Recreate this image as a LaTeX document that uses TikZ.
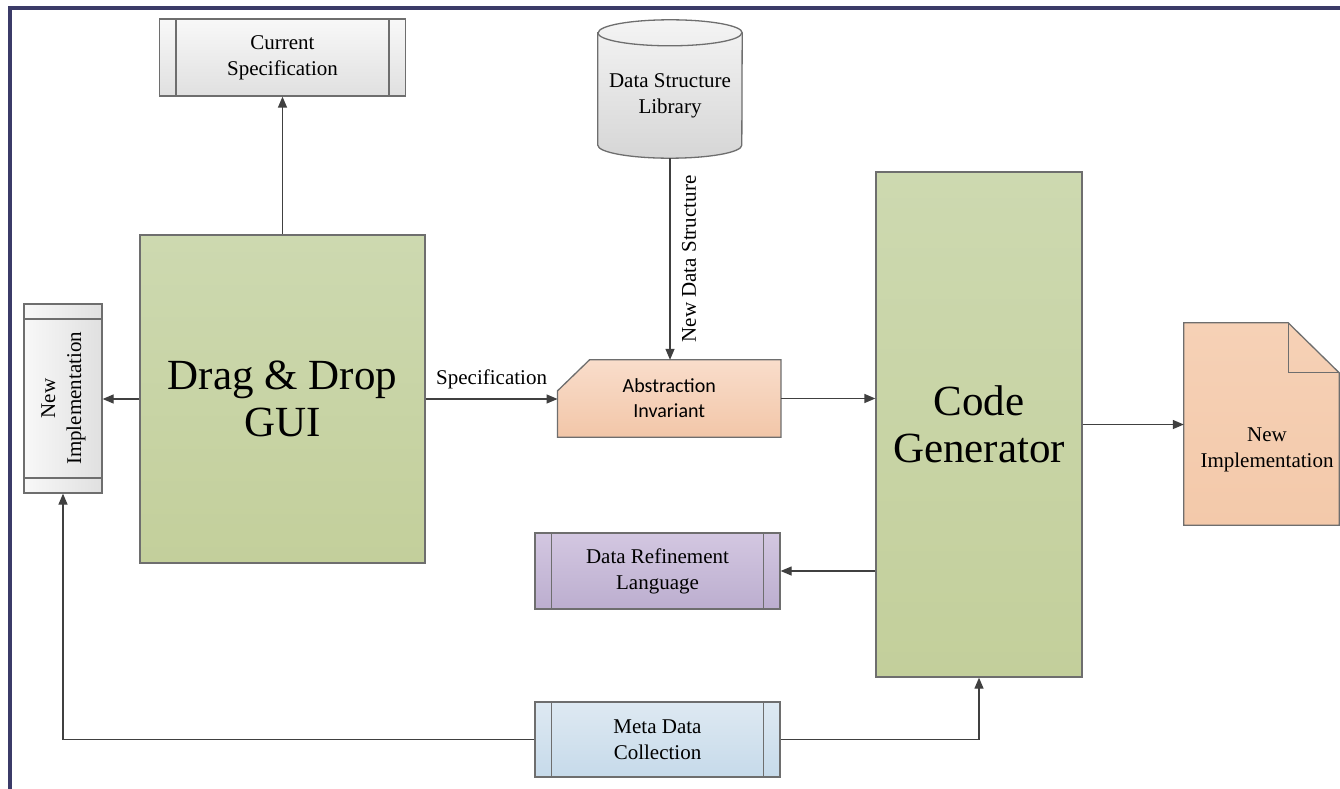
\documentclass[tikz,border=0pt]{standalone}
\usepackage{fontspec}
\setmainfont{Liberation Serif}
\newfontfamily\calfont{Carlito}
\usetikzlibrary{arrows.meta,backgrounds,calc}
\definecolor{boxgray}{HTML}{6E6E6E}
\definecolor{linegray}{HTML}{404040}
\definecolor{framenavy}{HTML}{3B3B68}
\definecolor{grayA}{HTML}{F8F8F8}
\definecolor{grayB}{HTML}{E0E0E0}
\definecolor{cylA}{HTML}{F4F4F4}
\definecolor{cylB}{HTML}{D6D6D6}
\definecolor{greenA}{HTML}{CDD9B0}
\definecolor{greenB}{HTML}{C3CF9B}
\definecolor{peachA}{HTML}{F9DDCB}
\definecolor{peachB}{HTML}{F2C6A8}
\definecolor{docA}{HTML}{F6D1B6}
\definecolor{docB}{HTML}{F3C9AA}
\definecolor{lavA}{HTML}{D3C7E1}
\definecolor{lavB}{HTML}{BCAECF}
\definecolor{blueA}{HTML}{DEE9F2}
\definecolor{blueB}{HTML}{C6DAEA}
\tikzset{
  box/.style={draw=boxgray, line width=1.3pt, inner sep=0pt, align=center},
  plain/.style={inner sep=0pt, align=center},
  txt/.style={font=\fontsize{21}{26}\selectfont},
  bigtxt/.style={font=\fontsize{43}{47}\selectfont},
  caltxt/.style={font=\calfont\fontsize{20}{25}\selectfont},
  conn/.style={draw=linegray, line width=1.3pt, -{Triangle[length=11pt,width=9pt]}},
  sidebars/.style={path picture={
    \draw[boxgray, line width=1.3pt]
      ([xshift=16.5pt]path picture bounding box.north west) -- ([xshift=16.5pt]path picture bounding box.south west)
      ([xshift=-16.5pt]path picture bounding box.north east) -- ([xshift=-16.5pt]path picture bounding box.south east);}},
  endbars/.style={path picture={
    \draw[boxgray, line width=1.3pt]
      ([yshift=-15pt]path picture bounding box.north west) -- ([yshift=-15pt]path picture bounding box.north east)
      ([yshift=15pt]path picture bounding box.south west) -- ([yshift=15pt]path picture bounding box.south east);}},
}
\begin{document}
\begin{tikzpicture}[x=1pt,y=-1pt]
\useasboundingbox (0,0) rectangle (1340,789);

% nodes
\node[box, sidebars, top color=grayA, bottom color=grayB, minimum width=246pt, minimum height=77pt, txt] (cs) at (282.5,57.5) {Current\\Specification};
\node[box, top color=greenA, bottom color=greenB, minimum width=285pt, minimum height=328pt, bigtxt] (gui) at (282.5,399) {Drag \& Drop\\GUI};
\node[box, endbars, left color=grayA, right color=grayB, minimum width=78pt, minimum height=189pt, txt] (nil) at (63,398.5)
  {\rotatebox{90}{\begin{tabular}{@{}c@{}}New\\Implementation\end{tabular}}};
\node[plain, minimum width=144pt, minimum height=125pt, txt] (dsl) at (670,95.5) {Data Structure\\Library};
\node[plain, minimum width=223pt, minimum height=77pt, caltxt] (ai) at (669.25,398.5) {Abstraction\\Invariant};
\node[box, top color=greenA, bottom color=greenB, minimum width=206pt, minimum height=505pt, bigtxt] (cg) at (979,424.5) {Code\\Generator};
\node[plain, minimum width=155pt, minimum height=202pt,
  label={[plain, txt, xshift=5.5pt, yshift=-25.5pt]center:New\\Implementation}] (doc) at (1261.5,424) {};
\node[box, sidebars, top color=lavA, bottom color=lavB, minimum width=245pt, minimum height=76pt, txt] (drl) at (657.5,571) {Data Refinement\\Language};
\node[box, sidebars, top color=blueA, bottom color=blueB, minimum width=245pt, minimum height=75pt, txt] (mdc) at (657.5,739.5) {Meta Data\\Collection};

% shapes drawn behind texts
\begin{scope}[on background layer]
  \fill[white] (0,0) rectangle (1340,789);
  \path[draw=boxgray, line width=1.3pt, top color=cylA, bottom color=cylB]
    (dsl.north west) -- ([yshift=13pt]dsl.south west)
    arc[start angle=180, end angle=360, x radius=72pt, y radius=13pt]
    -- (dsl.north east)
    arc[start angle=0, end angle=180, x radius=72pt, y radius=13pt] -- cycle;
  \draw[boxgray, line width=1.3pt] (dsl.north west) arc[start angle=180, end angle=360, x radius=72pt, y radius=13pt];
  \path[draw=boxgray, line width=1.3pt, top color=peachA, bottom color=peachB]
    ([yshift=-31pt]ai.north west) -- ([xshift=32pt]ai.north west) -- (ai.north east)
    -- (ai.south east) -- (ai.south west) -- cycle;
  \path[draw=boxgray, line width=1.3pt, top color=docA, bottom color=docB]
    (doc.north west) -- ([xshift=-51pt]doc.north east) -- ([yshift=-50pt]doc.north east)
    -- (doc.south east) -- (doc.south west) -- cycle;
  \draw[boxgray, line width=1.3pt] ([xshift=-51pt]doc.north east) -- ([xshift=-51pt,yshift=-50pt]doc.north east) -- ([yshift=-50pt]doc.north east);
\end{scope}

% frame
\draw[framenavy, line width=4pt] (9.5,789) -- (9.5,8.5) -- (1340,8.5);

% connectors
\draw[conn] (gui.north) -- (cs.south);
\draw[conn] (gui.west) -- (gui.west -| nil.east);
\draw[conn] (gui.east) -- (gui.east -| ai.west) node[midway, above=9pt, plain, txt] {Specification};
\draw[conn] (dsl.south) -- (dsl.south |- ai.north)
  node[midway, rotate=90, anchor=north, inner sep=0pt, outer sep=12pt, txt] {New Data Structure};
\draw[conn] (ai.east) -- (ai.east -| cg.west);
\draw[conn] (cg.east) -- (cg.east -| doc.west);
\draw[conn] (drl.east -| cg.west) -- (drl.east);
\draw[conn] (mdc.east) -| (cg.south);
\draw[conn] (mdc.west) -| (nil.south);
\end{tikzpicture}
\end{document}
